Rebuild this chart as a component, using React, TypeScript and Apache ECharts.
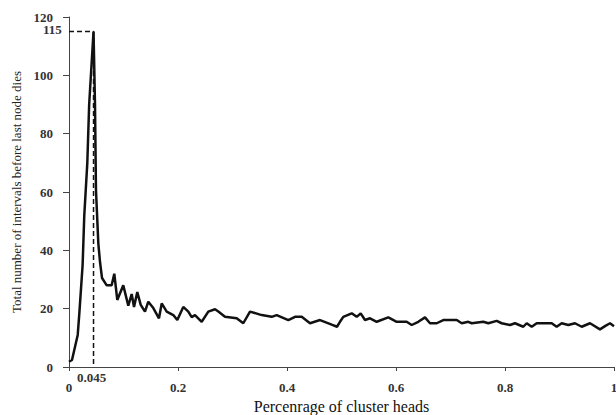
import React, { useEffect, useRef } from "react";
import * as echarts from "echarts";

const xValues: number[] = [
  0.0, 0.0055, 0.016, 0.019, 0.025, 0.028, 0.0336, 0.037, 0.045, 0.0477, 0.0495, 0.0538, 0.0569, 0.0606,
  0.0692, 0.0783, 0.0831, 0.0886, 0.0996, 0.1088, 0.115, 0.1193, 0.1253, 0.1316, 0.1394, 0.1455, 0.1547,
  0.1651, 0.1701, 0.1793, 0.1914, 0.1987, 0.2097, 0.2189, 0.2251, 0.2312, 0.2435, 0.2556, 0.2679, 0.274,
  0.2862, 0.3077, 0.3198, 0.3321, 0.3536, 0.3719, 0.3811, 0.4024, 0.4147, 0.427, 0.4422, 0.4606, 0.482,
  0.4917, 0.4972, 0.5033, 0.5187, 0.5279, 0.5352, 0.5431, 0.5523, 0.5646, 0.5859, 0.6013, 0.6196, 0.6288,
  0.6409, 0.6532, 0.6624, 0.6747, 0.6868, 0.7114, 0.7206, 0.7327, 0.7389, 0.7602, 0.7694, 0.7848, 0.7939,
  0.8092, 0.8183, 0.8336, 0.8398, 0.849, 0.8582, 0.8857, 0.8948, 0.904, 0.9161, 0.9284, 0.9407, 0.956,
  0.9743, 0.9835, 0.9927, 1.0,
];
const yValues: number[] = [
  1.8, 2.4, 11, 18.5, 35, 51.8, 70, 90, 115, 90, 60.7, 42.4, 36, 30.5,
  28, 28, 32, 23, 28, 21, 25, 20.6, 25.7, 21.3, 19, 22.4, 20.2,
  16.7, 21.8, 19, 17.8, 16.1, 20.6, 19, 17.1, 17.8, 15.5, 19, 19.8, 19,
  17.2, 16.7, 15, 19, 17.8, 17.2, 17.8, 16.1, 17.2, 17.2, 15, 16.1, 14.5,
  13.8, 15.5, 17.2, 18.4, 17.2, 18.4, 16.1, 16.7, 15.5, 17, 15.5, 15.5, 14.4,
  15.5, 17, 15, 15, 16.1, 16.1, 15, 15.5, 15, 15.5, 15, 15.8, 15,
  14.4, 15, 13.8, 15, 13.8, 15, 15, 13.8, 15, 14.4, 15, 13.8, 15,
  12.9, 14, 15, 14,
];

const peakX = 0.045;
const peakY = 115;
const guideX: number[] = [0, peakX, peakX];
const guideY: number[] = [peakY, peakY, 0];

const xTicks: number[] = [0, 0.2, 0.4, 0.6, 0.8, 1];
const yTicks: number[] = [0, 20, 40, 60, 80, 100, 120];

const SERIF = "Liberation Serif";

export default function App() {
  const ref = useRef<HTMLDivElement>(null);
  useEffect(() => {
    if (!ref.current) return;
    const chart = echarts.init(ref.current, undefined, { renderer: "svg" });
    const curve = xValues.map((x, i) => [x, yValues[i]]);
    const guide = guideX.map((x, i) => [x, guideY[i]]);
    chart.setOption({
      animation: false,
      backgroundColor: "#fff",
      grid: { left: 69, right: 2, top: 17, bottom: 48, containLabel: false, outerBoundsMode: "none" },
      xAxis: {
        type: "value",
        min: 0,
        max: 1,
        interval: 0.2,
        name: "Percenrage of cluster heads",
        nameLocation: "middle",
        nameGap: 29,
        nameTextStyle: { fontFamily: SERIF, fontSize: 16, color: "#111" },
        axisLine: { show: true, lineStyle: { color: "#444", width: 1 } },
        axisTick: { show: true, inside: false, length: 4, lineStyle: { color: "#444" } },
        splitLine: { show: false },
        axisLabel: {
          fontFamily: SERIF,
          fontSize: 13,
          fontWeight: "bold",
          color: "#333",
          margin: 14,
          showMaxLabel: true,
          formatter: (v: number) => (xTicks.some((t) => Math.abs(t - v) < 1e-9) ? String(+v.toFixed(1)) : ""),
        },
      },
      yAxis: {
        type: "value",
        min: 0,
        max: 120,
        interval: 20,
        name: "Total number of intervals before last node dies",
        nameLocation: "middle",
        nameGap: 46,
        nameTextStyle: { fontFamily: SERIF, fontSize: 13, color: "#222" },
        axisLine: { show: true, lineStyle: { color: "#444", width: 1 } },
        axisTick: { show: true, inside: false, length: 6, lineStyle: { color: "#444" } },
        splitLine: { show: false },
        axisLabel: {
          fontFamily: SERIF,
          fontSize: 13,
          fontWeight: "bold",
          color: "#333",
          margin: 16,
          formatter: (v: number) => (yTicks.includes(v) ? String(v) : ""),
        },
      },
      graphic: [
        {
          type: "text",
          left: 77,
          top: 371,
          style: { text: String(peakX), font: `bold 13px ${SERIF}`, fill: "#333" },
        },
        {
          type: "text",
          left: 43,
          top: 23,
          style: { text: String(peakY), font: `bold 13px ${SERIF}`, fill: "#333" },
        },
      ],
      series: [
        {
          type: "line",
          data: guide,
          symbol: "none",
          lineStyle: { color: "#111", width: 1.5, type: [5, 3] },
          silent: true,
          z: 1,
        },
        {
          type: "line",
          data: curve,
          symbol: "none",
          lineStyle: { color: "#111", width: 2.5 },
          z: 2,
        },
      ],
    });
    return () => chart.dispose();
  }, []);
  return <div ref={ref} style={{ position: "fixed", left: 0, top: 0, width: 616, height: 415 }} />;
}
